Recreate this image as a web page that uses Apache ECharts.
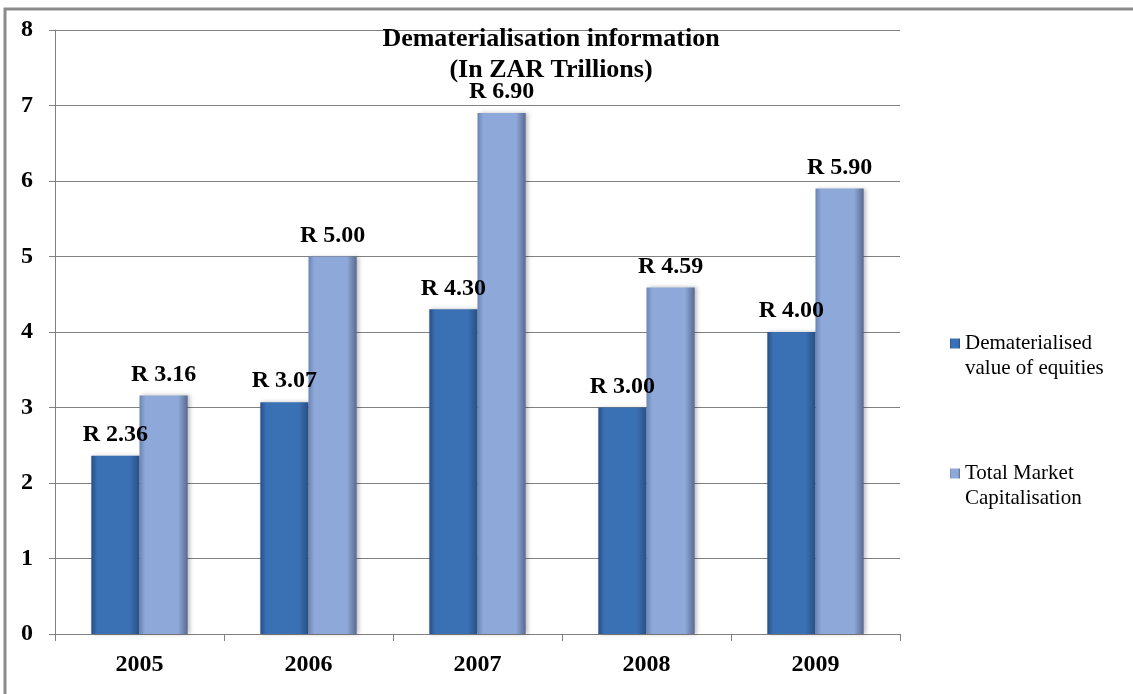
<!DOCTYPE html>
<html>
<head>
<meta charset="utf-8">
<script src="https://cdn.jsdelivr.net/npm/echarts@6/dist/echarts.min.js"></script>
<style>
  html, body { margin: 0; padding: 0; background: #fff; }
  #main { width: 1133px; height: 694px; }
</style>
</head>
<body>
<div id="main"></div>
<script>
var years = ['2005', '2006', '2007', '2008', '2009'];
var dematerialised = [2.36, 3.07, 4.30, 3.00, 4.00];
var totalCap = [3.16, 5.00, 6.90, 4.59, 5.90];
var yTicks = [0, 1, 2, 3, 4, 5, 6, 7, 8];

var serif = '"Liberation Serif", "DejaVu Serif", serif';

function barGrad(edge, mid, edge2) {
  return new echarts.graphic.LinearGradient(0, 0, 1, 0, [
    { offset: 0, color: edge },
    { offset: 0.12, color: mid },
    { offset: 0.8, color: mid },
    { offset: 1, color: edge2 }
  ]);
}

// blank first line so the legend icon sits beside the first text line
var legendText = {
  'Dematerialised value of equities': '\nDematerialised\nvalue of equities',
  'Total Market Capitalisation': '\nTotal Market\nCapitalisation'
};

var chart = echarts.init(document.getElementById('main'));
var option = {
  animation: false,
  backgroundColor: '#fff',
  grid: { left: 55, right: 233, top: 30, bottom: 60 },
  graphic: [
    {
      type: 'rect', silent: true,
      shape: { x: 5, y: 9, width: 1140, height: 700 },
      style: { fill: 'none', stroke: '#8c8c8c', lineWidth: 3 }
    },
    {
      type: 'text', x: 551, y: 24, z: 10,
      style: {
        text: 'Dematerialisation information\n(In ZAR Trillions)',
        font: 'bold 26px ' + serif, fill: '#000',
        align: 'center', verticalAlign: 'top', lineHeight: 31
      }
    }
  ],
  legend: {
    orient: 'vertical', left: 945, top: 301, itemGap: 55,
    itemWidth: 10, itemHeight: 10, icon: 'rect',
    formatter: function (name) { return legendText[name]; },
    textStyle: { fontFamily: serif, fontSize: 21, color: '#000', lineHeight: 25 }
  },
  xAxis: {
    type: 'category', data: years,
    axisLine: { lineStyle: { color: '#808080' } },
    axisTick: { show: true, length: 7, lineStyle: { color: '#808080' } },
    axisLabel: { fontFamily: serif, fontWeight: 'bold', fontSize: 24, color: '#000', margin: 19 }
  },
  yAxis: {
    type: 'value', min: 0, max: 8, interval: 1,
    axisLine: { show: true, lineStyle: { color: '#808080' } },
    axisTick: { show: true, length: 6, lineStyle: { color: '#808080' } },
    splitLine: { lineStyle: { color: '#808080' } },
    axisLabel: {
      fontFamily: serif, fontWeight: 'bold', fontSize: 24, color: '#000', margin: 22,
      formatter: function (v) { return yTicks.indexOf(v) >= 0 ? String(v) : ''; }
    }
  },
  series: [
    {
      name: 'Dematerialised value of equities', type: 'bar', data: dematerialised,
      barGap: '0%', barCategoryGap: '43%',
      itemStyle: {
        color: barGrad('#264e88', '#3a70b4', '#284f82'),
        shadowColor: 'rgba(0,0,0,0.25)', shadowBlur: 4, shadowOffsetX: 2
      },
      label: {
        show: true, position: 'top', distance: 9, color: '#000',
        fontFamily: serif, fontWeight: 'bold', fontSize: 24,
        formatter: function (p) { return 'R ' + p.value.toFixed(2); }
      }
    },
    {
      name: 'Total Market Capitalisation', type: 'bar', data: totalCap,
      itemStyle: {
        color: barGrad('#6a84b4', '#8ea9d9', '#58698f'),
        shadowColor: 'rgba(0,0,0,0.25)', shadowBlur: 4, shadowOffsetX: 2
      },
      label: {
        show: true, position: 'top', distance: 9, color: '#000',
        fontFamily: serif, fontWeight: 'bold', fontSize: 24,
        formatter: function (p) { return 'R ' + p.value.toFixed(2); }
      }
    }
  ]
};
chart.setOption(option);
</script>
</body>
</html>
